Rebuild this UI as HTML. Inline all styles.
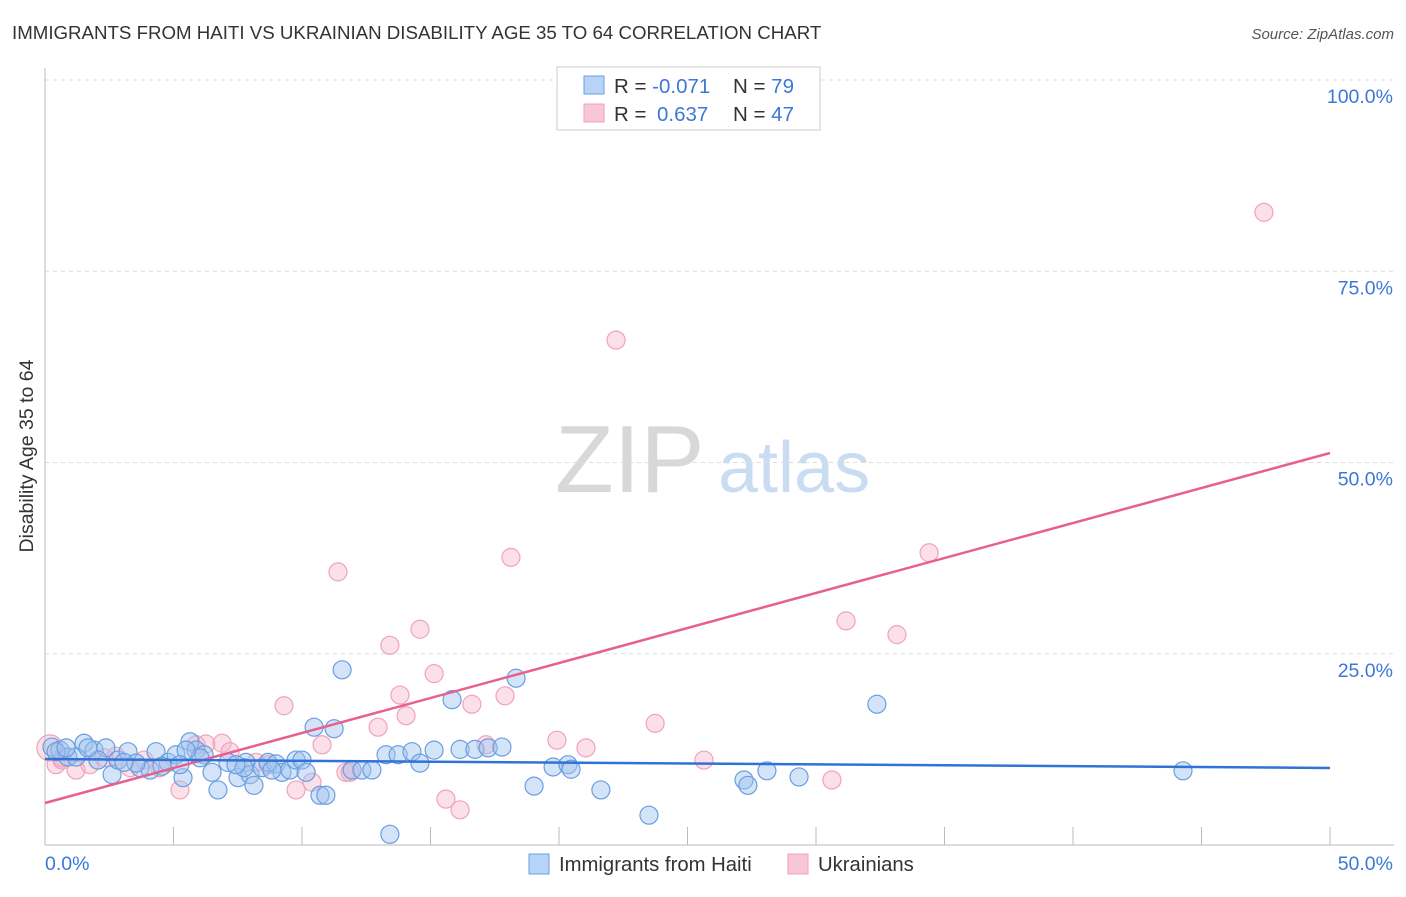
<!DOCTYPE html>
<html><head><meta charset="utf-8"><style>
body{margin:0;background:#fff;font-family:"Liberation Sans",sans-serif;}
svg text{font-family:"Liberation Sans",sans-serif;}
</style></head><body>
<svg id="chart" width="1406" height="892" viewBox="0 0 1406 892" xmlns="http://www.w3.org/2000/svg">
<text x="12" y="39" font-size="18.7" fill="#333">IMMIGRANTS FROM HAITI VS UKRAINIAN DISABILITY AGE 35 TO 64 CORRELATION CHART</text>
<text x="1394" y="39" font-size="15" fill="#555" font-style="italic" text-anchor="end">Source: ZipAtlas.com</text>
<text x="555" y="492" font-size="96" fill="#d8d8d8" font-family="Liberation Serif">ZIP</text>
<text x="718" y="492" font-size="72" fill="#c9dcf2">atlas</text>
<g id="grid"></g>
<g id="axes"></g>
<g id="marks"></g>
<text transform="translate(33,456) rotate(-90)" font-size="19.5" fill="#333" text-anchor="middle">Disability Age 35 to 64</text>
<g>
<rect x="557" y="67" width="263" height="63" fill="#fff" stroke="#ccc"/>
<rect x="584" y="76" width="20" height="18" fill="#b7d3f5" stroke="#6b9fe0"/>
<rect x="584" y="104" width="20" height="18" fill="#f9c6d5" stroke="#eea3ba"/>
<text x="614" y="93" font-size="20.5" fill="#333">R = <tspan fill="#3b78d8">-0.071</tspan></text>
<text x="733" y="93" font-size="20.5" fill="#333">N = <tspan fill="#3b78d8">79</tspan></text>
<text x="614" y="121" font-size="20.5" fill="#333">R = <tspan fill="#3b78d8" x="657">0.637</tspan></text>
<text x="733" y="121" font-size="20.5" fill="#333">N = <tspan fill="#3b78d8">47</tspan></text>
</g>
<g>
<rect x="529" y="854" width="20" height="20" fill="#b7d3f5" stroke="#6b9fe0"/>
<text x="559" y="871" font-size="20.3" fill="#333">Immigrants from Haiti</text>
<rect x="788" y="854" width="20" height="20" fill="#f9c6d5" stroke="#eea3ba"/>
<text x="818" y="871" font-size="20.3" fill="#333">Ukrainians</text>
</g>
</svg>
<script>
const yTicks=[25,50,75,100];
const yTickLabels=["25.0%","50.0%","75.0%","100.0%"];
const xTicks=[0,5,10,15,20,25,30,35,40,45,50];
const xEndLabels=["0.0%","50.0%"];
const haitiX=[0.27,0.58,0.89,1.52,1.91,2.37,2.61,2.84,3.23,3.70,4.09,4.32,4.79,5.10,5.37,5.64,5.88,6.19,6.50,6.73,7.12,7.51,7.82,7.98,8.13,8.44,8.68,8.99,9.22,9.53,9.77,10.0,10.47,10.70,10.93,11.25,11.56,11.95,12.33,12.72,13.27,13.42,13.74,14.28,14.59,15.14,15.84,16.15,16.73,17.24,17.78,18.33,19.03,19.77,20.35,20.47,21.63,23.50,27.20,27.35,28.09,29.34,32.37,44.28,0.43,1.21,2.06,3.54,4.55,6.03,7.74,8.83,10.16,7.43,5.49,3.07,5.25,1.67,0.82];
const haitiY=[12.8,12.4,11.5,13.3,12.4,12.7,9.2,11.1,12.2,10.1,9.8,12.2,10.8,11.8,8.8,13.5,12.4,11.8,9.5,7.2,10.8,8.8,10.8,9.2,7.8,10.1,10.8,10.6,9.5,9.8,11.1,11.1,15.4,6.5,6.5,15.2,22.9,9.8,9.8,9.8,11.8,1.4,11.8,12.2,10.7,12.4,19.0,12.5,12.5,12.7,12.8,21.8,7.7,10.2,10.5,9.9,7.2,3.9,8.5,7.8,9.7,8.9,18.4,9.7,12.2,11.5,11.1,10.7,10.3,11.4,10.1,9.8,9.5,10.5,12.4,10.8,10.5,12.7,12.7];
const ukrX=[0.19,0.43,0.66,1.21,1.75,2.30,2.76,3.31,3.85,4.47,5.25,5.88,6.26,6.89,7.20,8.21,8.68,9.30,9.77,10.39,10.78,11.40,11.71,11.87,12.96,13.42,13.81,14.05,14.59,15.14,15.60,16.15,16.61,17.16,17.90,18.13,19.92,21.05,22.22,23.74,25.64,30.62,31.17,33.15,34.40,47.43,0.66];
const ukrY=[12.7,10.5,11.1,9.8,10.5,11.4,11.6,10.1,11.1,10.1,7.2,13.1,13.2,13.3,12.2,10.8,10.5,18.2,7.2,8.2,13.1,35.7,9.5,9.5,15.4,26.1,19.6,16.9,28.2,22.4,6.0,4.6,18.4,13.1,19.5,37.6,13.7,12.7,66.0,15.9,11.1,8.5,29.3,27.5,38.2,82.7,11.4];
const haitiTrend=[11.24,10.07];
const ukrTrend=[5.49,51.24];

const X0=45,X1=1330,Y0=845,Y100=80;
const sx=v=>X0+(v/50)*(X1-X0);
const sy=v=>Y0-(v/100)*(Y0-Y100);
const NS="http://www.w3.org/2000/svg";
function mk(tag,attrs,parent){const e=document.createElementNS(NS,tag);for(const k in attrs)e.setAttribute(k,attrs[k]);parent.appendChild(e);return e;}
const grid=document.getElementById('grid'),axes=document.getElementById('axes'),marks=document.getElementById('marks');
yTicks.forEach((t,i)=>{
 const l=mk('line',{x1:X0,x2:1394,y1:sy(t),y2:sy(t),stroke:'#ddd','stroke-dasharray':'4,4'},grid);
 
 
 const tx=mk('text',{x:1393,y:sy(t)+23,'font-size':19.5,fill:'#3b78d8','text-anchor':'end'},axes);
 tx.textContent=yTickLabels[i];
 
 
});
const ax=mk('line',{x1:X0,x2:X0,y1:68,y2:Y0,stroke:'#bbb'},axes);


const bx=mk('line',{x1:X0,x2:1394,y1:Y0,y2:Y0,stroke:'#bbb'},axes);


xTicks.forEach(t=>{
 const l=mk('line',{x1:sx(t),x2:sx(t),y1:827,y2:Y0,stroke:'#bbb'},axes);
 
 
});
const xl0=mk('text',{x:45,y:870,'font-size':19.5,fill:'#3b78d8'},axes);xl0.textContent=xEndLabels[0];


const xl1=mk('text',{x:1393,y:870,'font-size':19.5,fill:'#3b78d8','text-anchor':'end'},axes);xl1.textContent=xEndLabels[1];


ukrX.forEach((x,i)=>{
 const c=mk('circle',{cx:sx(x),cy:sy(ukrY[i]),r:i===0?13:9,fill:'rgba(246,178,200,0.4)',stroke:'#f0a3bb','stroke-width':1.2},marks);
 
 
});
haitiX.forEach((x,i)=>{
 const c=mk('circle',{cx:sx(x),cy:sy(haitiY[i]),r:9,fill:'rgba(160,196,240,0.45)',stroke:'#6a9ee0','stroke-width':1.2},marks);
 
 
});
const t1=mk('line',{x1:sx(0),x2:sx(50),y1:sy(ukrTrend[0]),y2:sy(ukrTrend[1]),stroke:'#e8608e','stroke-width':2.5},marks);


const t2=mk('line',{x1:sx(0),x2:sx(50),y1:sy(haitiTrend[0]),y2:sy(haitiTrend[1]),stroke:'#2f73d6','stroke-width':2.5},marks);


</script>
</body></html>
